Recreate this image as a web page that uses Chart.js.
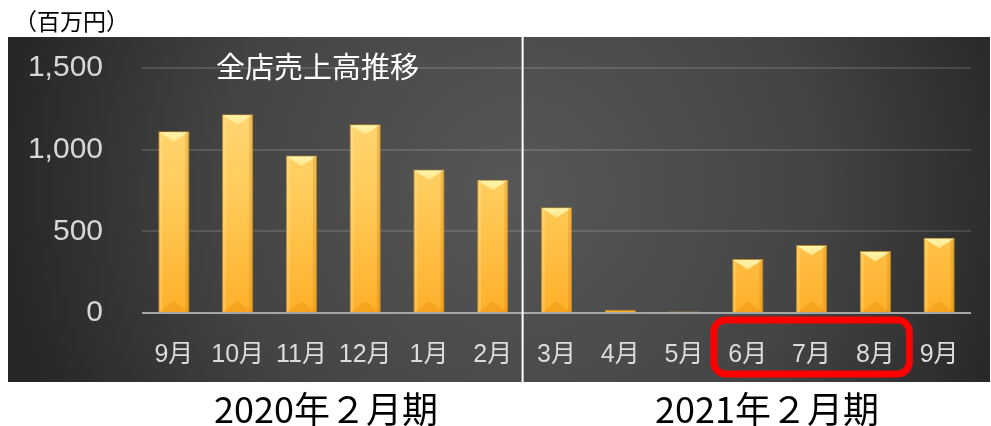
<!DOCTYPE html>
<html>
<head>
<meta charset="utf-8">
<script src="https://cdn.jsdelivr.net/npm/chart.js@4/dist/chart.umd.min.js"></script>
<style>
  body { margin: 0; background: #fff; }
  #wrap { position: relative; width: 991px; height: 426px; }
  canvas { position: absolute; left: 0; top: 0; }
  .txt { position: absolute; font-family: "Noto Sans CJK JP", sans-serif; white-space: nowrap; line-height: 1; }
  #unit { left: 14px; top: 9px; font-size: 23px; color: #000; }
  #title { left: 216px; top: 51px; font-size: 29px; color: #fff; }
  .period { top: 389px; font-size: 36px; color: #000; transform: translateX(-50%); }
</style>
</head>
<body>
<div id="wrap">
  <canvas id="salesChart" width="991" height="426"></canvas>
  <div class="txt" id="unit">（百万円）</div>
  <div class="txt" id="title">全店売上高推移</div>
  <div class="txt period" style="left:326px">2020年２月期</div>
  <div class="txt period" style="left:767px">2021年２月期</div>
</div>
<script>
var months = ['9月', '10月', '11月', '12月', '1月', '2月', '3月', '4月', '5月', '6月', '7月', '8月', '9月'];
var sales = [1112, 1217, 965, 1155, 879, 816, 648, 20, 9, 331, 417, 380, 460];
var yTicks = [0, 500, 1000, 1500];
var splitAfter = 5;      // last month of FY2020/2
var highlight = [9, 11]; // 6月..8月

// dark panel behind the chart
const panelBg = {
    id: 'panelBg',
    beforeDraw(chart) {
        const ctx = chart.ctx;
        const x0 = 8, y0 = 37, w = 982, h = 345;
        const g = ctx.createRadialGradient(520, 190, 20, 520, 190, 520);
        g.addColorStop(0, '#565656');
        g.addColorStop(0.55, '#444444');
        g.addColorStop(1, '#262626');
        ctx.save();
        ctx.fillStyle = g;
        ctx.fillRect(x0, y0, w, h);
        ctx.restore();
    }
};

// bevel look on top of each bar
const barBevel = {
    id: 'barBevel',
    afterDatasetsDraw(chart) {
        const ctx = chart.ctx;
        const meta = chart.getDatasetMeta(0);
        meta.data.forEach(function (bar) {
            const left = bar.x - bar.width / 2, right = bar.x + bar.width / 2;
            const top = bar.y, bottom = bar.base;
            const hgt = bottom - top;
            if (hgt < 4) return;
            const b = Math.min(10, hgt / 3);
            ctx.save();
            // top bevel
            let g = ctx.createLinearGradient(0, top, 0, top + b);
            g.addColorStop(0, '#fff6b0');
            g.addColorStop(1, '#ffe68a');
            ctx.fillStyle = g;
            ctx.beginPath();
            ctx.moveTo(left + 1, top + 1);
            ctx.lineTo(right - 1, top + 1);
            ctx.lineTo(right - 1 - b * 1.4, top + b);
            ctx.lineTo(left + 1 + b * 1.4, top + b);
            ctx.closePath();
            ctx.fill();
            // bottom bevel
            ctx.fillStyle = 'rgba(230,140,10,0.35)';
            ctx.beginPath();
            ctx.moveTo(left + 1, bottom);
            ctx.lineTo(right - 1, bottom);
            ctx.lineTo(right - 1 - b * 1.4, bottom - b);
            ctx.lineTo(left + 1 + b * 1.4, bottom - b);
            ctx.closePath();
            ctx.fill();
            // side shading
            ctx.fillStyle = 'rgba(200,120,0,0.25)';
            ctx.fillRect(right - 4, top + 1, 3, hgt - 1);
            ctx.fillStyle = 'rgba(255,240,180,0.25)';
            ctx.fillRect(left + 1, top + 1, 3, hgt - 1);
            ctx.restore();
        });
    }
};

// divider between the two fiscal years and the red highlight box
const overlay = {
    id: 'overlay',
    afterDraw(chart) {
        const ctx = chart.ctx;
        const xs = chart.scales.x;
        const xDiv = (xs.getPixelForValue(splitAfter) + xs.getPixelForValue(splitAfter + 1)) / 2 - 2;
        ctx.save();
        ctx.strokeStyle = '#ffffff';
        ctx.lineWidth = 2;
        ctx.beginPath();
        ctx.moveTo(xDiv, 37);
        ctx.lineTo(xDiv, 382);
        ctx.stroke();

        const bx0 = xs.getPixelForValue(highlight[0]) - 34;
        const bx1 = xs.getPixelForValue(highlight[1]) + 34;
        ctx.strokeStyle = '#ff0000';
        ctx.lineWidth = 7;
        ctx.beginPath();
        ctx.roundRect(bx0, 320, bx1 - bx0, 54, 12);
        ctx.stroke();
        ctx.restore();
    }
};

const salesData = {
    labels: months,
    datasets: [
        {
            label: '全店売上高',
            data: sales,
            backgroundColor: function (c) {
                const area = c.chart.chartArea;
                if (!area) return '#ffc040';
                const g = c.chart.ctx.createLinearGradient(0, area.top, 0, area.bottom);
                g.addColorStop(0, '#ffdb80');
                g.addColorStop(0.5, '#ffcc5c');
                g.addColorStop(1, '#ffb02a');
                return g;
            },
            borderColor: '#b8882c',
            borderWidth: 1,
            barPercentage: 0.98,
            categoryPercentage: 0.5,
        }
    ],
};

const salesConfig = {
    type: 'bar',
    data: salesData,
    options: {
        responsive: false,
        animation: false,
        layout: { padding: { left: 0, right: 20, top: 68, bottom: 0 } },
        plugins: {
            legend: { display: false },
            tooltip: { enabled: false },
        },
        scales: {
            x: {
                afterFit: function (s) { s.height = 113; },
                grid: { display: false },
                border: { display: false },
                ticks: {
                    color: '#dcdcdc',
                    padding: 19,
                    font: { family: '"Liberation Sans", "Noto Sans CJK JP"', size: 25 },
                },
            },
            y: {
                min: 0,
                max: 1500,
                afterFit: function (s) { s.width = 142; },
                afterBuildTicks: function (s) { s.ticks = yTicks.map(function (v) { return { value: v }; }); },
                border: { display: false },
                grid: {
                    drawTicks: false,
                    color: function (c) { return c.tick.value === 0 ? '#a6a6a6' : 'rgba(255,255,255,0.13)'; },
                    lineWidth: 2,
                },
                ticks: {
                    color: '#d8d8d8',
                    padding: 39,
                    font: { family: '"Liberation Sans", Arial', size: 30 },
                    callback: function (v) { return v.toLocaleString('en-US'); },
                },
            },
        },
    },
    plugins: [panelBg, barBevel, overlay],
};

const salesChart = new Chart(document.getElementById('salesChart'), salesConfig);
</script>
</body>
</html>
